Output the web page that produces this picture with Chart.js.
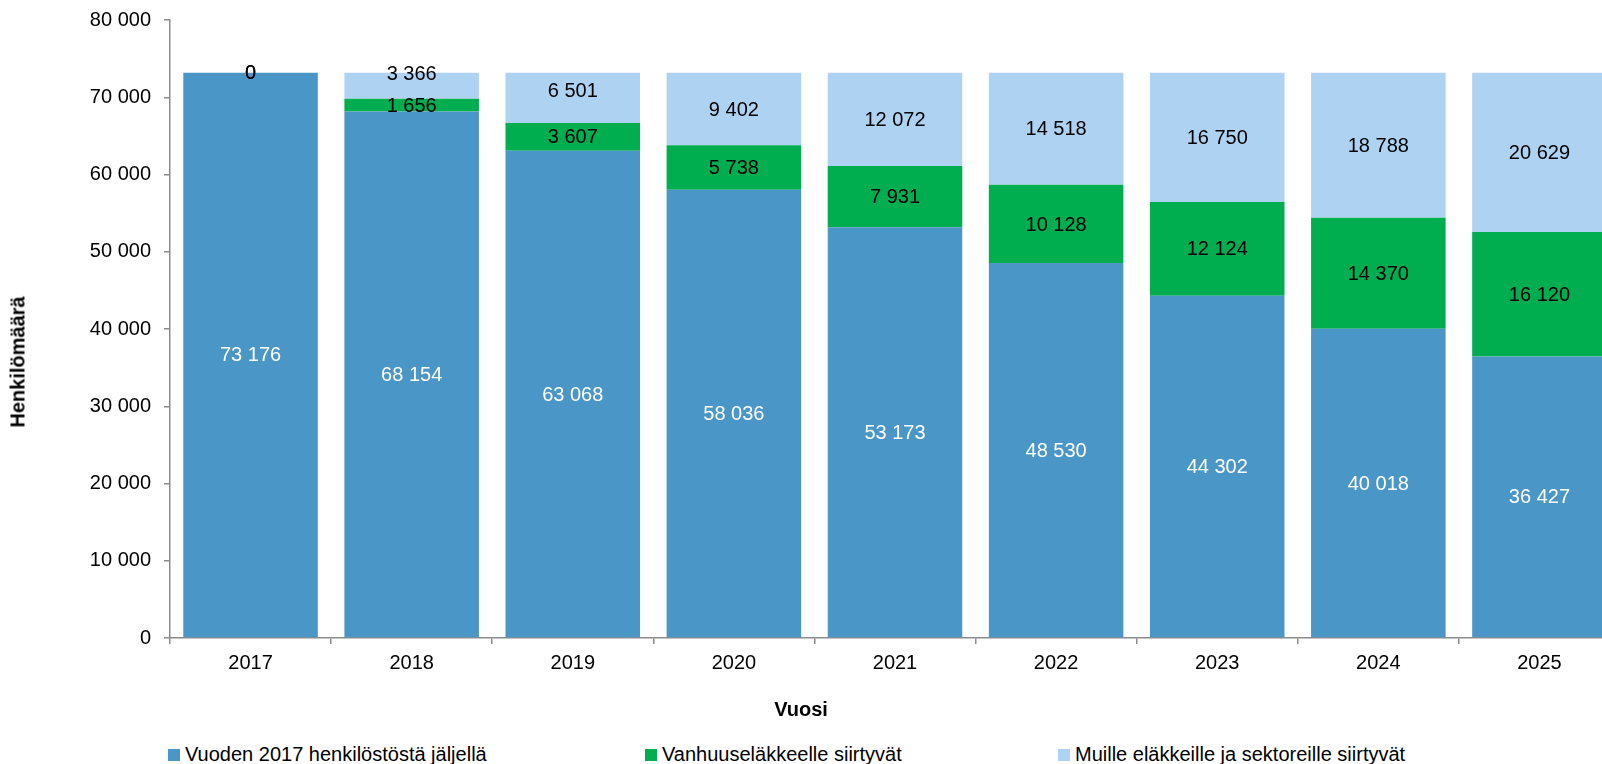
<!DOCTYPE html>
<html lang="fi">
<head>
<meta charset="UTF-8">
<title>Henkilöstön poistuma</title>
<script src="https://cdn.jsdelivr.net/npm/chart.js"></script>
<style>
    body { margin: 0; width: 1602px; height: 764px; overflow: hidden; position: relative; background: #fff;
           font-family: "Liberation Sans", Arial, sans-serif; color: #000; }
    #wrap { position: absolute; left: 0; top: -5px; width: 1620px; height: 705px; }
    .axis-title { position: absolute; font-weight: bold; font-size: 20px; white-space: nowrap; }
    #legend { position: absolute; left: 0; top: 743px; width: 1602px; height: 20px; }
    .item { position: absolute; top: 0; display: flex; align-items: center; font-size: 20px; white-space: nowrap; }
    .box { width: 12px; height: 12px; margin-right: 5px; }
</style>
</head>
<body>
<div id="wrap"><canvas id="chart"></canvas></div>
<div class="axis-title" style="left:18px; top:362px; transform: translate(-50%,-50%) rotate(-90deg);">Henkilömäärä</div>
<div class="axis-title" style="left:801px; top:709px; transform: translate(-50%,-50%);">Vuosi</div>
<div id="legend"></div>

<script>
    // data
    const years = ['2017', '2018', '2019', '2020', '2021', '2022', '2023', '2024', '2025'];
    const remaining = [73176, 68154, 63068, 58036, 53173, 48530, 44302, 40018, 36427];
    const oldAgePension = [0, 1656, 3607, 5738, 7931, 10128, 12124, 14370, 16120];
    const otherMoves = [0, 3366, 6501, 9402, 12072, 14518, 16750, 18788, 20629];
    const seriesNames = ['Vuoden 2017 henkilöstöstä jäljellä', 'Vanhuuseläkkeelle siirtyvät', 'Muille eläkkeille ja sektoreille siirtyvät'];
    const colors = ['#4A96C6', '#00AE4F', '#AED3F2'];

    // Excel moved a couple of the light labels up a bit
    const labelNudge = { 2: [0, -12, -7, 0, 0, 0, 0, 0, 0] };

    const fmt = v => String(v).replace(/\B(?=(\d{3})+(?!\d))/g, ' ');
    const font = '"Liberation Sans", Arial, sans-serif';

    const barLabels = {
        id: 'barLabels',
        afterDatasetsDraw(chart) {
            const ctx = chart.ctx;
            ctx.save();
            ctx.font = '20px ' + font;
            ctx.textAlign = 'center';
            ctx.textBaseline = 'middle';
            chart.data.datasets.forEach((ds, i) => {
                chart.getDatasetMeta(i).data.forEach((bar, j) => {
                    const nudge = labelNudge[i] ? labelNudge[i][j] : 0;
                    ctx.fillStyle = i === 0 ? '#fff' : '#000';
                    ctx.fillText(fmt(ds.data[j]), bar.x, (bar.y + bar.base) / 2 + 1 + nudge);
                });
            });
            ctx.restore();
        }
    };

    const series = [remaining, oldAgePension, otherMoves];

    new Chart(document.getElementById('chart'), {
        type: 'bar',
        data: {
            labels: years,
            datasets: series.map((d, i) => ({
                label: seriesNames[i],
                data: d,
                backgroundColor: colors[i],
                borderWidth: 0,
                barPercentage: 0.835,
                categoryPercentage: 1
            }))
        },
        options: {
            responsive: true,
            maintainAspectRatio: false,
            animation: false,
            layout: { padding: { left: 0, right: 0, top: 3, bottom: 22 } },
            plugins: {
                legend: { display: false },
                tooltip: { enabled: false }
            },
            scales: {
                x: {
                    stacked: true,
                    afterFit(scale) { scale.height = 40; },
                    border: { color: '#8c8c8c', width: 1.5 },
                    grid: { drawOnChartArea: false, drawTicks: true, tickLength: 6, color: '#8c8c8c', lineWidth: 1.5 },
                    ticks: { color: '#000', font: { family: font, size: 20 }, padding: 7, maxRotation: 0 }
                },
                y: {
                    stacked: true,
                    min: 0,
                    max: 80000,
                    afterFit(scale) { scale.width = 170; },
                    border: { color: '#8c8c8c', width: 1.5 },
                    grid: { drawOnChartArea: false, drawTicks: true, tickLength: 6, color: '#8c8c8c', lineWidth: 1.5 },
                    ticks: {
                        stepSize: 10000,
                        color: '#000',
                        font: { family: font, size: 20 },
                        padding: 13,
                        callback: v => fmt(v)
                    }
                }
            }
        },
        plugins: [barLabels]
    });

    // legend as page text, placed like the original
    const legendX = [168, 645, 1058];
    const legend = document.getElementById('legend');
    seriesNames.forEach((name, i) => {
        const item = document.createElement('div');
        item.className = 'item';
        item.style.left = legendX[i] + 'px';
        item.innerHTML = '<span class="box" style="background:' + colors[i] + '"></span><span>' + name + '</span>';
        legend.appendChild(item);
    });
</script>
</body>
</html>
